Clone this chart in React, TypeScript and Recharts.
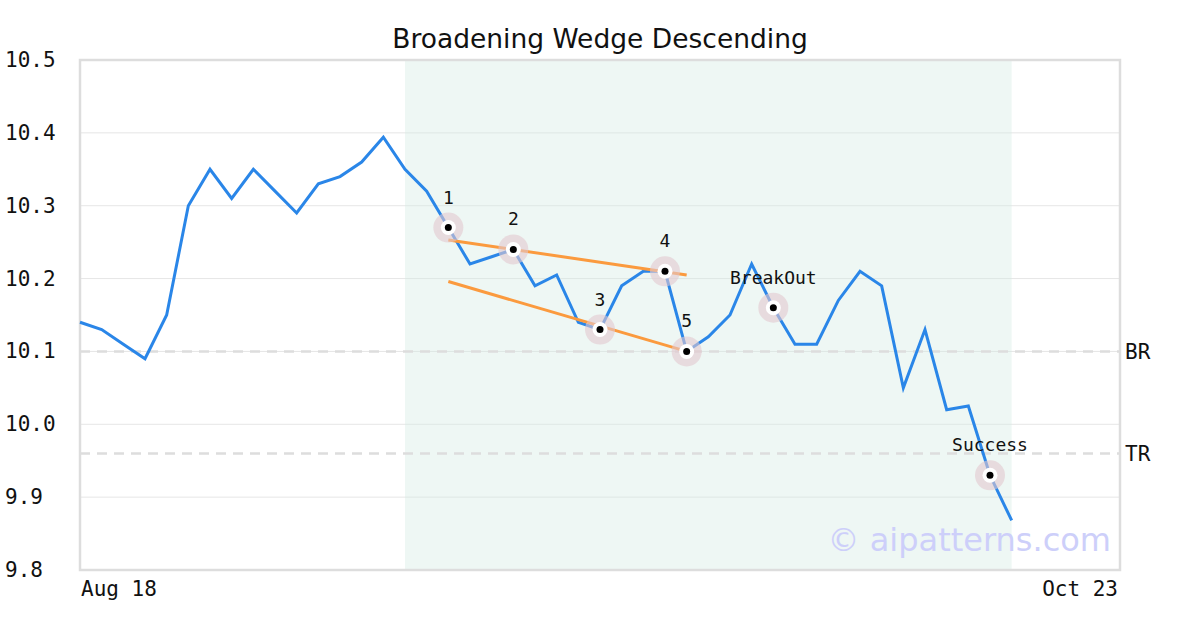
import React from 'react';
import {
  ComposedChart, Line, Scatter, XAxis, YAxis, CartesianGrid,
  ReferenceArea, ReferenceLine,
} from 'recharts';

// price per trading day, Aug 18 .. Oct 23
const prices = [
  10.14, 10.13, 10.11, 10.09, 10.15, 10.30, 10.35, 10.31, 10.35, 10.32,
  10.29, 10.33, 10.34, 10.36, 10.394, 10.35, 10.32, 10.27, 10.22, 10.23,
  10.24, 10.19, 10.205, 10.14, 10.13, 10.19, 10.21, 10.21, 10.10, 10.12,
  10.15, 10.22, 10.16, 10.11, 10.11, 10.17, 10.21, 10.19, 10.05, 10.13,
  10.02, 10.025, 9.93, 9.868,
];
const xLabels = ['Aug 18', 'Oct 23'];
const xTickIdx = [0, 48];
const yTicks = [9.8, 9.9, 10.0, 10.1, 10.2, 10.3, 10.4, 10.5];

const markerIdx = [17, 20, 24, 27, 28, 32, 42];
const markerLabels = ['1', '2', '3', '4', '5', 'BreakOut', 'Success'];

const upperLine = [{ x: 17, y: 10.253 }, { x: 28, y: 10.205 }];
const lowerLine = [{ x: 17, y: 10.196 }, { x: 28, y: 10.1 }];
const patternRange = [15, 43];
const levels = [{ name: 'BR', y: 10.1 }, { name: 'TR', y: 9.96 }];

const data = prices.map((p, i) => ({ i, p }));
const markers = markerIdx.map((i, k) => ({ i, p: prices[i], label: markerLabels[k] }));

const mono = '"DejaVu Sans Mono", monospace';

const YTick = (props: any) => {
  const { y, payload } = props;
  return (
    <text x={5} y={y} dy={7} textAnchor="start" fontFamily={mono} fontSize={21} fill="#111">
      {payload.value.toFixed(1)}
    </text>
  );
};

const XTick = (props: any) => {
  const { x, y, payload } = props;
  const k = xTickIdx.indexOf(payload.value);
  return (
    <text x={k === 0 ? x + 1 : x - 2} y={y + 18} textAnchor={k === 0 ? 'start' : 'end'} fontFamily={mono} fontSize={21} fill="#111">
      {xLabels[k]}
    </text>
  );
};

const Marker = (props: any) => {
  const { cx, cy, payload } = props;
  return (
    <g>
      <circle cx={cx} cy={cy} r={15} fill="#e2c8cf" fillOpacity={0.6} />
      <circle cx={cx} cy={cy} r={7.5} fill="#ffffff" />
      <circle cx={cx} cy={cy} r={3.5} fill="#000000" />
      <text x={cx} y={cy - 24} textAnchor="middle" fontFamily={mono} fontSize={18} fill="#111">
        {payload.label}
      </text>
    </g>
  );
};

export default function App() {
  return (
    <div style={{ position: 'absolute', left: 0, top: 0, width: 1200, height: 630, background: '#fff' }}>
      <div style={{ position: 'absolute', left: 0, top: 23, width: 1200, textAlign: 'center', fontFamily: '"DejaVu Sans", sans-serif', fontSize: 26.5, color: '#111' }}>
        Broadening Wedge Descending
      </div>
      <ComposedChart width={1200} height={630} data={data} margin={{ top: 60, right: 80, bottom: 0, left: 0 }}>
        <ReferenceArea x1={patternRange[0]} x2={patternRange[1]} y1={9.8} y2={10.5} fill="#d5ece3" fillOpacity={0.4} stroke="none" />
        <CartesianGrid vertical={false} stroke="#e6e6e6" strokeWidth={1} />
        <XAxis dataKey="i" type="number" domain={[0, 48]} ticks={xTickIdx} tick={<XTick />} axisLine={false} tickLine={false} height={60} interval={0} />
        <YAxis type="number" domain={[9.8, 10.5]} ticks={yTicks} tick={<YTick />} axisLine={false} tickLine={false} width={80} interval={0} />
        {levels.map((l) => (
          <ReferenceLine key={l.name} y={l.y} stroke="#dddddd" strokeWidth={2.5} strokeDasharray="10 7"
            label={{ value: l.name, position: 'right', fill: '#111', fontSize: 21, fontFamily: mono }} />
        ))}
        <ReferenceArea x1={0} x2={48} y1={9.8} y2={10.5} fill="none" stroke="#dddddd" strokeWidth={2.5} />
        <Line dataKey="p" stroke="#2a86e8" strokeWidth={3} dot={false} isAnimationActive={false} />
        <ReferenceLine segment={upperLine} stroke="#fb9a3e" strokeWidth={3} />
        <ReferenceLine segment={lowerLine} stroke="#fb9a3e" strokeWidth={3} />
        <Scatter data={markers} dataKey="p" shape={<Marker />} isAnimationActive={false} />
      </ComposedChart>
      <div style={{ position: 'absolute', right: 89, top: 521, fontFamily: '"DejaVu Sans", sans-serif', fontSize: 32, color: '#cdcffa' }}>
        © aipatterns.com
      </div>
    </div>
  );
}
